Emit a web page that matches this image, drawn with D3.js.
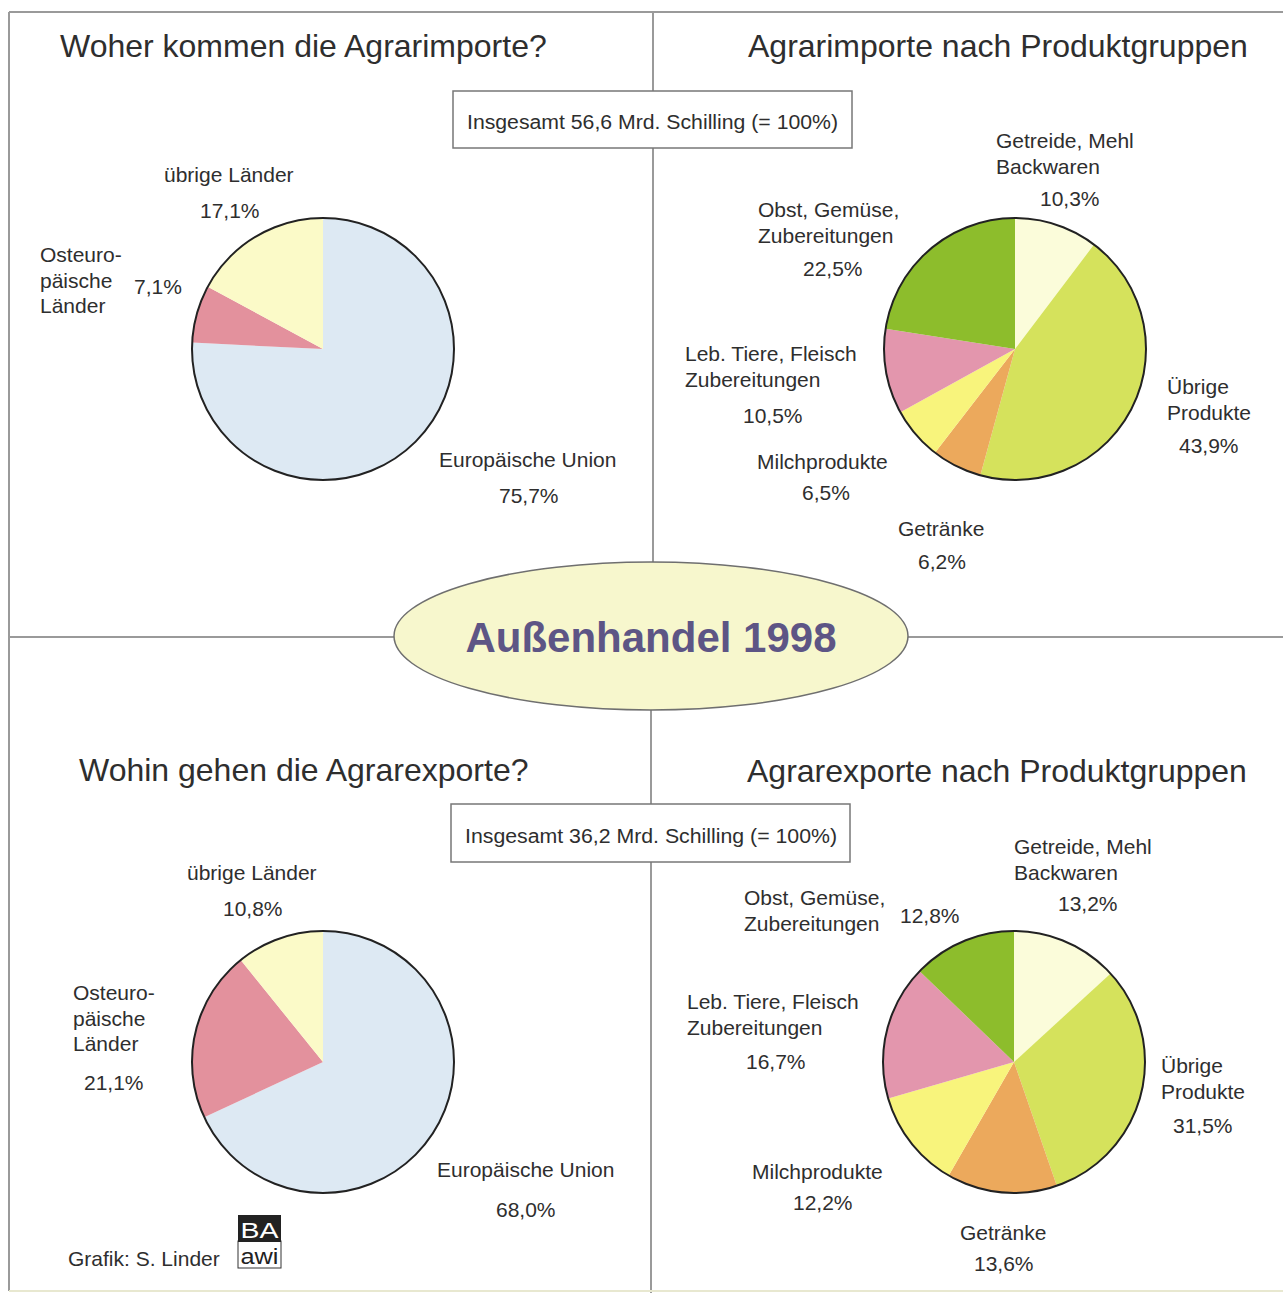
<!DOCTYPE html>
<html><head><meta charset="utf-8">
<script src="https://cdn.jsdelivr.net/npm/d3@7"></script>
<style>
html,body{margin:0;padding:0;background:#fff;}
svg text{font-family:"Liberation Sans",Arial,sans-serif;fill:#2e2e2e;}
</style></head>
<body>
<svg id="c" width="1283" height="1293"></svg>
<script>
// ---------- DATA ----------
const regionCategories = ["Europäische Union", "Osteuropäische Länder", "übrige Länder"];
const importRegionValues = [75.7, 7.1, 17.1];
const exportRegionValues = [68.0, 21.1, 10.8];

const productCategories = ["Getreide, Mehl Backwaren", "Übrige Produkte", "Getränke", "Milchprodukte", "Leb. Tiere, Fleisch Zubereitungen", "Obst, Gemüse, Zubereitungen"];
const importProductValues = [10.3, 43.9, 6.2, 6.5, 10.5, 22.5];
const exportProductValues = [13.2, 31.5, 13.6, 12.2, 16.7, 12.8];

const importTotal = "56,6";
const exportTotal = "36,2";

// ---------- STYLE / LAYOUT ----------
const regionColors = ["#dde9f3", "#e3919d", "#fbfac8"];
const productColors = ["#fbfcda", "#d5e25c", "#eca95c", "#f8f47c", "#e396ad", "#8dbd2c"];
const R = 131;
const LBL = 21;

const svg = d3.select("#c");
const fmt = v => d3.format(".1f")(v).replace(".", ",") + "%";

// frame lines
const frame = svg.append("g").attr("stroke", "#9a9a9a").attr("stroke-width", 2).attr("fill", "none");
frame.append("line").attr("x1", 9).attr("y1", 12).attr("x2", 1283).attr("y2", 12);
frame.append("line").attr("x1", 9).attr("y1", 12).attr("x2", 9).attr("y2", 1291);
frame.append("line").attr("x1", 9).attr("y1", 637).attr("x2", 1283).attr("y2", 637);
frame.append("line").attr("x1", 653).attr("y1", 12).attr("x2", 653).attr("y2", 600);
frame.append("line").attr("x1", 651).attr("y1", 680).attr("x2", 651).attr("y2", 1293);
frame.append("line").attr("x1", 9).attr("y1", 1291).attr("x2", 1283).attr("y2", 1291).attr("stroke", "#e8e8d0");

function text(x, y, s, size, opts = {}) {
  const t = svg.append("text").attr("x", x).attr("y", y).attr("font-size", size).text(s);
  if (opts.anchor) t.attr("text-anchor", opts.anchor);
  if (opts.len) t.attr("textLength", opts.len).attr("lengthAdjust", "spacingAndGlyphs");
  if (opts.weight) t.attr("font-weight", opts.weight);
  if (opts.fill) t.style("fill", opts.fill);
  return t;
}

function drawPie(cx, cy, values, colors) {
  const pie = d3.pie().sort(null).value(d => d)(values);
  const arc = d3.arc().innerRadius(0).outerRadius(R);
  const g = svg.append("g").attr("transform", `translate(${cx},${cy})`);
  g.selectAll("path").data(pie).join("path").attr("d", arc).attr("fill", (d, i) => colors[i]);
  g.append("circle").attr("r", R).attr("fill", "none").attr("stroke", "#222").attr("stroke-width", 2);
}

function drawLabels(categoriesLines, values, layout) {
  layout.forEach((L, i) => {
    categoriesLines[i].forEach((ln, j) => text(L.x, L.y + j * 25.5, ln, LBL));
    text(L.px, L.py, fmt(values[i]), LBL);
  });
}

const regionLines = [["Europäische Union"], ["Osteuro-", "päische", "Länder"], ["übrige Länder"]];
const productLines = [["Getreide, Mehl", "Backwaren"], ["Übrige", "Produkte"], ["Getränke"], ["Milchprodukte"], ["Leb. Tiere, Fleisch", "Zubereitungen"], ["Obst, Gemüse,", "Zubereitungen"]];

// ---- Top-left ----
text(60, 57, "Woher kommen die Agrarimporte?", 32);
drawPie(323, 349, importRegionValues, regionColors);
drawLabels(regionLines, importRegionValues, [
  {x: 439, y: 467, px: 499, py: 503},
  {x: 40, y: 262, px: 134, py: 294},
  {x: 164, y: 182, px: 200, py: 218}
]);

// ---- Top-right ----
text(748, 57, "Agrarimporte nach Produktgruppen", 32);
svg.append("rect").attr("x", 453).attr("y", 91).attr("width", 399).attr("height", 57)
  .attr("fill", "#fff").attr("stroke", "#777").attr("stroke-width", 1.5);
text(467, 129, `Insgesamt ${importTotal} Mrd. Schilling (= 100%)`, 20, {len: 371});
drawPie(1015, 349, importProductValues, productColors);
drawLabels(productLines, importProductValues, [
  {x: 996, y: 148, px: 1040, py: 206},
  {x: 1167, y: 394, px: 1179, py: 453},
  {x: 898, y: 536, px: 918, py: 569},
  {x: 757, y: 469, px: 802, py: 500},
  {x: 685, y: 361, px: 743, py: 423},
  {x: 758, y: 217, px: 803, py: 276}
]);

// ---- Center ellipse ----
svg.append("ellipse").attr("cx", 651).attr("cy", 636).attr("rx", 257).attr("ry", 74)
  .attr("fill", "#f7f7cd").attr("stroke", "#6f6f6f").attr("stroke-width", 1.5);
text(651, 652, "Außenhandel 1998", 42, {anchor: "middle", weight: "bold", fill: "#5d5585"});

// ---- Bottom-left ----
text(79, 781, "Wohin gehen die Agrarexporte?", 32);
drawPie(323, 1062, exportRegionValues, regionColors);
drawLabels(regionLines, exportRegionValues, [
  {x: 437, y: 1177, px: 496, py: 1217},
  {x: 73, y: 1000, px: 84, py: 1090},
  {x: 187, y: 880, px: 223, py: 916}
]);
text(68, 1266, "Grafik: S. Linder", LBL);
// logo
svg.append("rect").attr("x", 238).attr("y", 1241).attr("width", 43).attr("height", 27).attr("fill", "#fff").attr("stroke", "#333").attr("stroke-width", 1);
svg.append("rect").attr("x", 238).attr("y", 1215).attr("width", 43).attr("height", 27).attr("fill", "#222");
text(259.5, 1238, "BA", 22, {anchor: "middle", fill: "#fff", len: 38});
text(259.5, 1264, "awi", 22, {anchor: "middle", fill: "#222", len: 38});

// ---- Bottom-right ----
text(747, 782, "Agrarexporte nach Produktgruppen", 32);
svg.append("rect").attr("x", 451).attr("y", 804).attr("width", 399).attr("height", 58)
  .attr("fill", "#fff").attr("stroke", "#777").attr("stroke-width", 1.5);
text(465, 843, `Insgesamt ${exportTotal} Mrd. Schilling (= 100%)`, 20, {len: 372});
drawPie(1014, 1062, exportProductValues, productColors);
drawLabels(productLines, exportProductValues, [
  {x: 1014, y: 854, px: 1058, py: 911},
  {x: 1161, y: 1073, px: 1173, py: 1133},
  {x: 960, y: 1240, px: 974, py: 1271},
  {x: 752, y: 1179, px: 793, py: 1210},
  {x: 687, y: 1009, px: 746, py: 1069},
  {x: 744, y: 905, px: 900, py: 923}
]);
</script>
</body></html>
